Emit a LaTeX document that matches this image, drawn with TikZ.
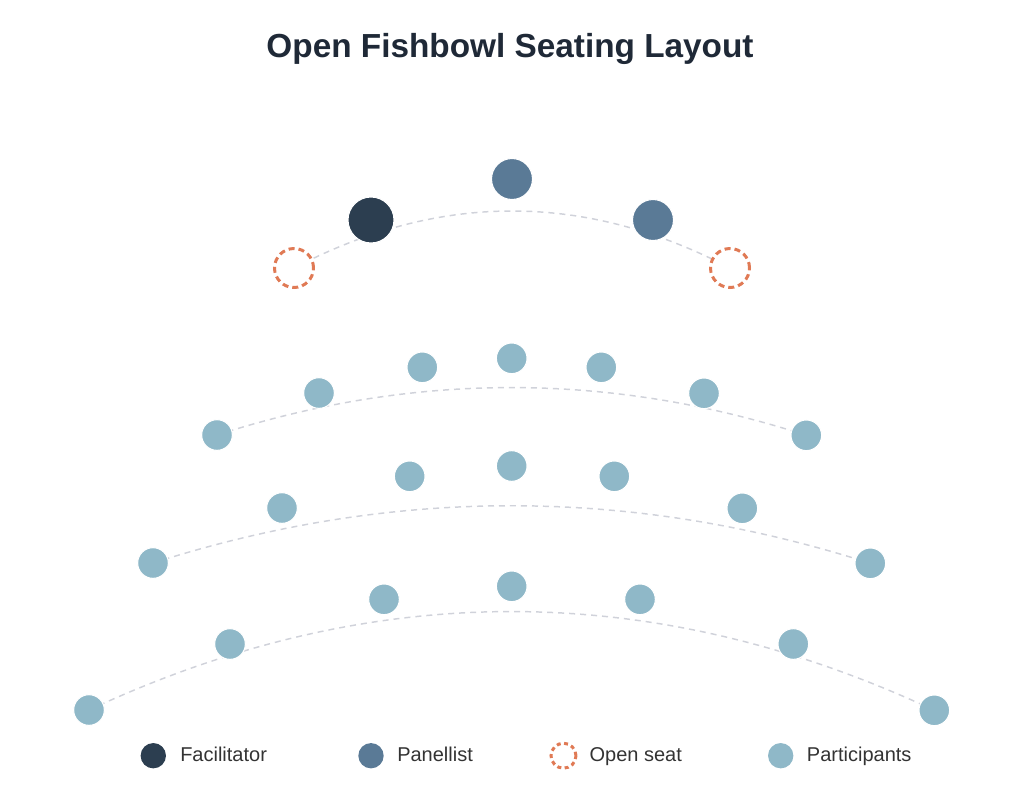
\documentclass[tikz,border=0pt]{standalone}
\usepackage{fontspec}
\setmainfont{Liberation Sans}
\usetikzlibrary{backgrounds}
\usepackage{xcolor}

\definecolor{titlecol}{HTML}{1F2937}
\definecolor{facilcol}{HTML}{2C3E50}
\definecolor{panelcol}{HTML}{5A7A96}
\definecolor{partcol}{HTML}{8FB8C8}
\definecolor{opencol}{HTML}{E07A55}
\definecolor{arccol}{HTML}{D0D2DA}
\definecolor{textcol}{HTML}{333333}

\tikzset{
    seat/.style={circle, inner sep=0pt, draw=white, line width=0.8pt},
    facil/.style={seat, fill=facilcol, minimum size=34.5pt},
    panel/.style={seat, fill=panelcol, minimum size=30.75pt},
    openseat/.style={circle, inner sep=0pt, fill=white, draw=opencol, line width=2.25pt,
        dash pattern=on 4.5pt off 3pt, minimum size=29.25pt},
    part/.style={seat, fill=partcol, minimum size=23pt},
    arcline/.style={draw=arccol, line width=1.1pt, dash pattern=on 4.5pt off 3.75pt},
    keydot/.style={circle, inner sep=0pt, minimum size=19pt},
    keytext/.style={anchor=base west, inner sep=0pt, text=textcol, font=\fontsize{15}{18}\selectfont},
    heading/.style={anchor=base, inner sep=0pt, text=titlecol, font=\fontsize{25}{30}\selectfont\bfseries}
}

\begin{document}
\begin{tikzpicture}[x=0.75pt, y=-0.75pt]
    \useasboundingbox (0,0) rectangle (1024,794);

    % Title
    \node[heading] (title) at (510,57.3) {Open Fishbowl Seating Layout};

    % Inner circle
    \node[openseat] (open1) at (294,268) {};
    \node[facil] (fac) at (371,220) {};
    \node[panel] (pan1) at (512,179) {};
    \node[panel] (pan2) at (653,220) {};
    \node[openseat] (open2) at (730,268) {};

    % First row
    \node[part] (a1) at (217,435) {};
    \node[part] (a2) at (319,393) {};
    \node[part] (a3) at (422.3,367.3) {};
    \node[part] (a4) at (511.7,358.3) {};
    \node[part] (a5) at (601.3,367.3) {};
    \node[part] (a6) at (704,393.3) {};
    \node[part] (a7) at (806.3,435.3) {};

    % Second row
    \node[part] (b1) at (153,563) {};
    \node[part] (b2) at (282,508) {};
    \node[part] (b3) at (409.7,476.3) {};
    \node[part] (b4) at (511.7,466) {};
    \node[part] (b5) at (614.3,476.3) {};
    \node[part] (b6) at (742.3,508.3) {};
    \node[part] (b7) at (870.3,563.3) {};

    % Third row
    \node[part] (c1) at (89,710) {};
    \node[part] (c2) at (230,644) {};
    \node[part] (c3) at (384,599.3) {};
    \node[part] (c4) at (511.7,586.3) {};
    \node[part] (c5) at (640,599.3) {};
    \node[part] (c6) at (793.3,644) {};
    \node[part] (c7) at (934.3,710.3) {};

    % Arcs behind the seats
    \begin{pgfonlayer}{background}
        \draw[arcline] (open1.center) .. controls (439.3,192) and (584.7,192) .. (open2.center);
        \draw[arcline] (a1.center) .. controls (413.3,371.7) and (609.7,371.7) .. (a7.center);
        \draw[arcline] (b1.center) .. controls (392,486.6) and (631,486.6) .. (b7.center);
        \draw[arcline] (c1.center) .. controls (370.7,578.7) and (652.3,578.7) .. (c7.center);
    \end{pgfonlayer}

    % Legend
    \node[keydot, fill=facilcol] (kfac) at (153.3,755.7) {};
    \node[keytext] (tfac) at (180,761.7) {Facilitator};
    \node[keydot, fill=panelcol] (kpan) at (371,755.7) {};
    \node[keytext] (tpan) at (397,761.7) {Panellist};
    \node[keydot, fill=white, draw=opencol, line width=2.25pt, dash pattern=on 3pt off 2.6pt,
        minimum size=18.75pt] (kopen) at (563.5,755.7) {};
    \node[keytext] (topen) at (589.3,761.7) {Open seat};
    \node[keydot, fill=partcol] (kpart) at (780.7,755.7) {};
    \node[keytext] (tpart) at (806.7,761.7) {Participants};
\end{tikzpicture}
\end{document}
